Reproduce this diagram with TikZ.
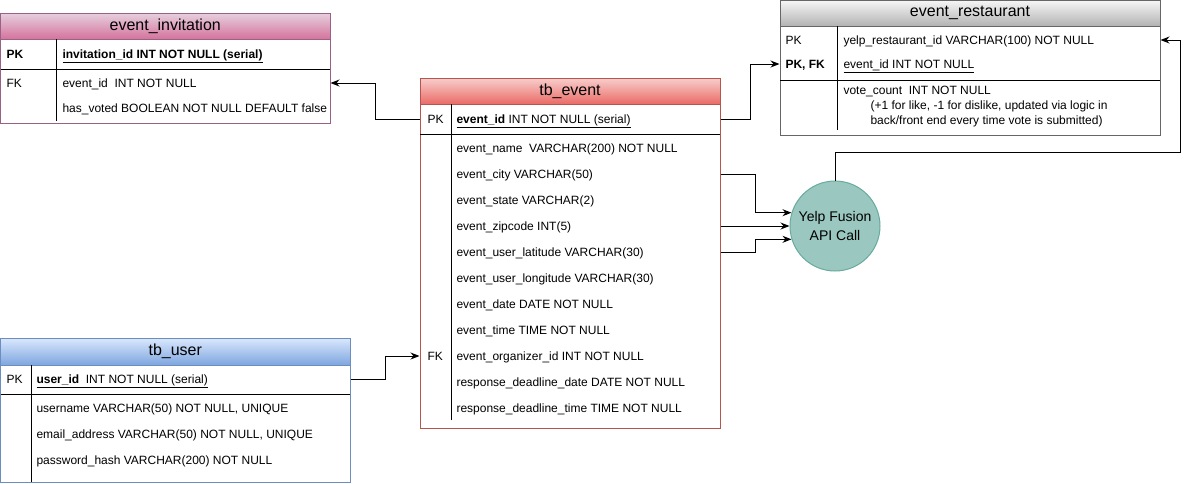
\documentclass[tikz,border=0pt]{standalone}
\usepackage{fontspec}
\setmainfont{Liberation Sans}
\usetikzlibrary{arrows.meta,fit,calc}

\definecolor{invtop}{HTML}{E6D0DE}
\definecolor{invbot}{HTML}{D5739D}
\definecolor{invline}{HTML}{996185}
\definecolor{evtop}{HTML}{F8CECC}
\definecolor{evbot}{HTML}{EA6B66}
\definecolor{evline}{HTML}{B85450}
\definecolor{resttop}{HTML}{F5F5F5}
\definecolor{restbot}{HTML}{B3B3B3}
\definecolor{restline}{HTML}{666666}
\definecolor{usertop}{HTML}{DAE8FC}
\definecolor{userbot}{HTML}{7EA6E0}
\definecolor{userline}{HTML}{6C8EBF}
\definecolor{apifill}{HTML}{9AC7BF}
\definecolor{apiline}{HTML}{67AB9F}

\begin{document}
\begin{tikzpicture}[x=0.75pt,y=-0.75pt,line width=0.75pt,
            >={Stealth[length=6.75pt,width=5.25pt]},
            frame/.style={inner sep=0pt,draw=#1},
            bar/.style={inner sep=0pt},
            head/.style={inner sep=0pt,font=\fontsize{12}{14}\selectfont},
            key/.style={anchor=west,inner sep=0pt,text height=6.5pt,text depth=0pt,
                font=\fontsize{9}{11}\selectfont},
            field/.style={key},
            api/.style={circle,draw=apiline,fill=apifill,inner sep=0pt,minimum size=67.5pt,
                align=center,font=\fontsize{10.5}{14.25}\selectfont}]
            \useasboundingbox (0,0) rectangle (1189,483);

            % event_invitation
            \node[bar,fit={(0.5,13) (330,39)},top color=invtop,bottom color=invbot,draw=invline] (inv-bar) {};
            \node[head] (inv-head) at (inv-bar) {event\_invitation};
            \node[frame=invline,fit={(0.5,13) (330,123)}] (inv) {};
            \draw (0.5,69) -- (330,69);
            \draw (56,39) -- (56,121);
            \node[key] (inv-pk) at (6,54) {\textbf{PK}};
            \node[field] (inv-id) at (62,54) {\underline{\textbf{invitation\_id INT NOT NULL (serial)}}};
            \node[key] (inv-fk) at (6,83) {FK};
            \node[field] (inv-ev) at (62,83) {event\_id\ \ INT NOT NULL};
            \node[field] (inv-vote) at (62,108) {has\_voted BOOLEAN NOT NULL DEFAULT false};

            % tb_event
            \node[bar,fit={(420,78) (720,104)},top color=evtop,bottom color=evbot,draw=evline] (ev-bar) {};
            \node[head] (ev-head) at (ev-bar) {tb\_event};
            \node[frame=evline,fit={(420,78) (720,428)}] (ev) {};
            \draw (420,134) -- (720,134);
            \draw (451,104) -- (451,420);
            \node[key] (ev-pk) at (427,119) {PK};
            \node[field] (ev-id) at (456,119) {\underline{\textbf{event\_id} INT NOT NULL (serial)}};
            \foreach \txt [count=\i] in {event\_name\ \ VARCHAR(200) NOT NULL,event\_city VARCHAR(50),
                    event\_state VARCHAR(2),event\_zipcode INT(5),event\_user\_latitude VARCHAR(30),
                    event\_user\_longitude VARCHAR(30),event\_date DATE NOT NULL,event\_time TIME NOT NULL,
                    event\_organizer\_id INT NOT NULL,response\_deadline\_date DATE NOT NULL,
                    response\_deadline\_time TIME NOT NULL}
                \node[field] (ev-\i) at (456,122+26*\i) {\txt};
            \node[key] (ev-fk) at (427,356) {FK};

            % event_restaurant
            \node[bar,fit={(780,0.5) (1160,26)},top color=resttop,bottom color=restbot,draw=restline] (rest-bar) {};
            \node[head] (rest-head) at (rest-bar) {event\_restaurant};
            \node[frame=restline,fit={(780,0.5) (1160,135)}] (rest) {};
            \draw (780,80) -- (1160,80);
            \draw (837,26) -- (837,130);
            \node[key] (rest-pk) at (785,40) {PK};
            \node[field] (rest-id) at (843,40) {yelp\_restaurant\_id VARCHAR(100) NOT NULL};
            \node[key] (rest-fk) at (785,64) {\textbf{PK, FK}};
            \node[field] (rest-ev) at (843,64) {\underline{event\_id INT NOT NULL}};
            \node[anchor=north west,inner sep=0pt,align=left,font=\fontsize{9}{11.25}\selectfont] (rest-vote) at (843,85.5)
                {vote\_count\ \ INT NOT NULL\\
                 \hspace*{20.25pt}(+1 for like, -1 for dislike, updated via logic in\\
                 \hspace*{20.25pt}back/front end every time vote is submitted)};

            % tb_user
            \node[bar,fit={(0.5,338) (350,365)},top color=usertop,bottom color=userbot,draw=userline] (user-bar) {};
            \node[head] (user-head) at (user-bar) {tb\_user};
            \node[frame=userline,fit={(0.5,338) (350,482)}] (user) {};
            \draw (0.5,394) -- (350,394);
            \draw (31,365) -- (31,482);
            \node[key] (user-pk) at (6,379) {PK};
            \node[field] (user-id) at (36,379) {\underline{\textbf{user\_id}\ \ INT NOT NULL (serial)}};
            \node[field] (user-name) at (36,408) {username VARCHAR(50) NOT NULL, UNIQUE};
            \node[field] (user-mail) at (36,434) {email\_address VARCHAR(50) NOT NULL, UNIQUE};
            \node[field] (user-pass) at (36,460) {password\_hash VARCHAR(200) NOT NULL};

            \node[api] (api) at (835,226) {Yelp Fusion\\API Call};

            \draw[->] (ev.west |- ev-pk) -- ++(-44,0) |- (inv.east |- inv-fk);
            \draw[->] (ev.east |- ev-pk) -- ++(30,0) |- (rest.west |- rest-fk);
            \draw[->] (user.east |- user-pk) -- ++(35,0) |- (ev.west |- ev-fk);
            \draw[->] (ev.east |- ev-2) -- ++(35,0) |- (api.163);
            \draw[->] (ev.east |- api.west) -- (api.west);
            \draw[->] (ev.east |- ev-5) -- ++(35,0) |- (api.197);
            \draw[->] (api.north) -- ++(0,-28) -| ($(rest.east |- rest-pk)+(20,0)$) -- (rest.east |- rest-pk);
        \end{tikzpicture}
\end{document}
